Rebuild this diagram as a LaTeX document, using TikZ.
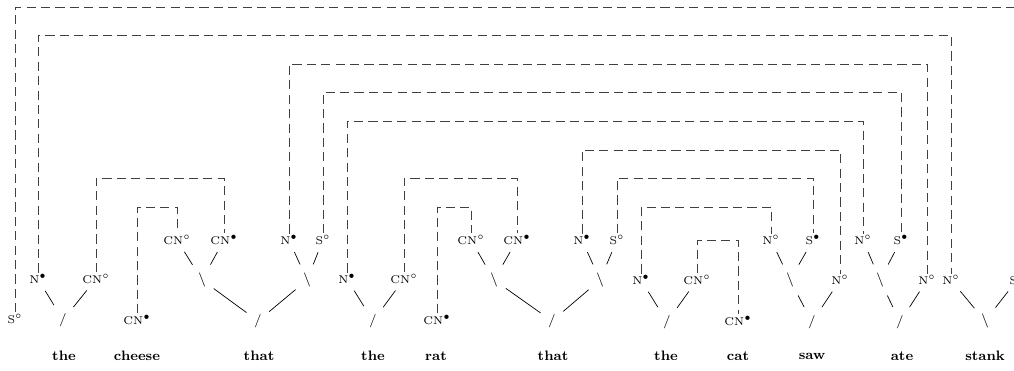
\documentclass[tikz,border=0pt]{standalone}
\usepackage{tikz}

\begin{document}
\begin{tikzpicture}[x=0.02cm, y=-0.02cm,
  lbl/.style={font=\fontsize{6.4}{8}\selectfont, inner sep=1pt},
  lnk/.style={font=\fontsize{7.6}{9}\selectfont, inner sep=1.5pt},
  word/.style={font=\fontsize{7.8}{9}\selectfont\bfseries, inner sep=1pt},
  edge/.style={line width=0.4pt, shorten <=3.5pt, shorten >=3.5pt},
  axlink/.style={line width=0.45pt, black!75, dash pattern=on 5.2pt off 3pt}]

\clip (0,0) rectangle (1014,370);

% levels of the links
\coordinate (lv1) at (0,7);
\coordinate (lv2) at (0,35);
\coordinate (lv3) at (0,64);
\coordinate (lv4) at (0,92);
\coordinate (lv5) at (0,121);
\coordinate (lv6) at (0,150);
\coordinate (lv7) at (0,178);
\coordinate (lv8) at (0,207);
\coordinate (lv9) at (0,240);

% words
\node[word] (wthe1) at (64,356) {the};
\node[word] (wcheese) at (137,356) {cheese};
\node[word] (wthat1) at (259,356) {that};
\node[word] (wthe2) at (373,356) {the};
\node[word] (wrat) at (436,356) {rat};
\node[word] (wthat2) at (553,356) {that};
\node[word] (wthe3) at (666,356) {the};
\node[word] (wcat) at (738,356) {cat};
\node[word] (wsaw) at (812,356) {saw};
\node[word] (wate) at (902,356) {ate};
\node[word] (wstank) at (985,356) {stank};

% the
\node[lbl] (sTop) at (15,319) {S$^\circ$};
\node[lbl] (n1) at (38,279) {N$^\bullet$};
\node[lbl] (cn1) at (96,279) {CN$^\circ$};
\node[lnk] (r1) at (63,320) {/};
% cheese
\node[lbl] (cn2) at (137,320) {CN$^\bullet$};
% that
\node[lbl] (cn3) at (177,240) {CN$^\circ$};
\node[lbl] (cn4) at (224,240) {CN$^\bullet$};
\node[lnk] (p1) at (202,280) {$\backslash$};
\node[lbl] (n2) at (289,240) {N$^\bullet$};
\node[lbl] (s1) at (323,240) {S$^\circ$};
\node[lnk] (p2) at (307,280) {$\backslash$};
\node[lnk] (r2) at (258,321) {/};
% the
\node[lbl] (n3) at (347,279) {N$^\bullet$};
\node[lbl] (cn5) at (404,279) {CN$^\circ$};
\node[lnk] (r3) at (373,321) {/};
% rat
\node[lbl] (cn6) at (437,320) {CN$^\bullet$};
% that
\node[lbl] (cn7) at (471,240) {CN$^\circ$};
\node[lbl] (cn8) at (517,240) {CN$^\bullet$};
\node[lnk] (p3) at (494,280) {$\backslash$};
\node[lbl] (n4) at (582,240) {N$^\bullet$};
\node[lbl] (s2) at (617,240) {S$^\circ$};
\node[lnk] (p4) at (600,280) {$\backslash$};
\node[lnk] (r4) at (552,321) {/};
% the
\node[lbl] (n5) at (641,280) {N$^\bullet$};
\node[lbl] (cn9) at (697,280) {CN$^\circ$};
\node[lnk] (r5) at (667,322) {/};
% cat
\node[lbl] (cn10) at (738,321) {CN$^\bullet$};
% saw
\node[lbl] (n6) at (771,240) {N$^\circ$};
\node[lbl] (s3) at (813,240) {S$^\bullet$};
\node[lnk] (p5) at (790,280) {$\backslash$};
\node[lbl] (n7) at (840,280) {N$^\circ$};
\node[lnk] (r6) at (812,322) {/};
% ate
\node[lbl] (n8) at (863,240) {N$^\circ$};
\node[lbl] (s4) at (901,240) {S$^\bullet$};
\node[lnk] (p6) at (880,280) {$\backslash$};
\node[lbl] (n9) at (927,280) {N$^\circ$};
\node[lnk] (r7) at (900,322) {/};
% stank
\node[lbl] (n10) at (951,280) {N$^\circ$};
\node[lbl] (s5) at (1017,280) {S$^\bullet$};
\node[lnk] (r8) at (985,321) {$\backslash$};

\draw[edge] (r1) -- (n1);
\draw[edge] (r1) -- (cn1);
\draw[edge] (p1) -- (cn3);
\draw[edge] (p1) -- (cn4);
\draw[edge] (p2) -- (n2);
\draw[edge] (p2) -- (s1);
\draw[edge] (r2) -- (p1);
\draw[edge] (r2) -- (p2);
\draw[edge] (r3) -- (n3);
\draw[edge] (r3) -- (cn5);
\draw[edge] (p3) -- (cn7);
\draw[edge] (p3) -- (cn8);
\draw[edge] (p4) -- (n4);
\draw[edge] (p4) -- (s2);
\draw[edge] (r4) -- (p3);
\draw[edge] (r4) -- (p4);
\draw[edge] (r5) -- (n5);
\draw[edge] (r5) -- (cn9);
\draw[edge] (p5) -- (n6);
\draw[edge] (p5) -- (s3);
\draw[edge] (r6) -- (p5);
\draw[edge] (r6) -- (n7);
\draw[edge] (p6) -- (n8);
\draw[edge] (p6) -- (s4);
\draw[edge] (r7) -- (p6);
\draw[edge] (r7) -- (n9);
\draw[edge] (r8) -- (n10);
\draw[edge] (r8) -- (s5);

\draw[axlink] (sTop.north) -- (sTop.north |- lv1) -| (s5.north);
\draw[axlink] (n1.north) -- (n1.north |- lv2) -| (n10.north);
\draw[axlink] (n2.north) -- (n2.north |- lv3) -| (n9.north);
\draw[axlink] (s1.north) -- (s1.north |- lv4) -| (s4.north);
\draw[axlink] (n3.north) -- (n3.north |- lv5) -| (n8.north);
\draw[axlink] (n4.north) -- (n4.north |- lv6) -| (n7.north);
\draw[axlink] (s2.north) -- (s2.north |- lv7) -| (s3.north);
\draw[axlink] (n5.north) -- (n5.north |- lv8) -| (n6.north);
\draw[axlink] (cn9.north) -- (cn9.north |- lv9) -| (cn10.north);
\draw[axlink] (cn1.north) -- (cn1.north |- lv7) -| (cn4.north);
\draw[axlink] (cn2.north) -- (cn2.north |- lv8) -| (cn3.north);
\draw[axlink] (cn5.north) -- (cn5.north |- lv7) -| (cn8.north);
\draw[axlink] (cn6.north) -- (cn6.north |- lv8) -| (cn7.north);

\end{tikzpicture}
\end{document}
